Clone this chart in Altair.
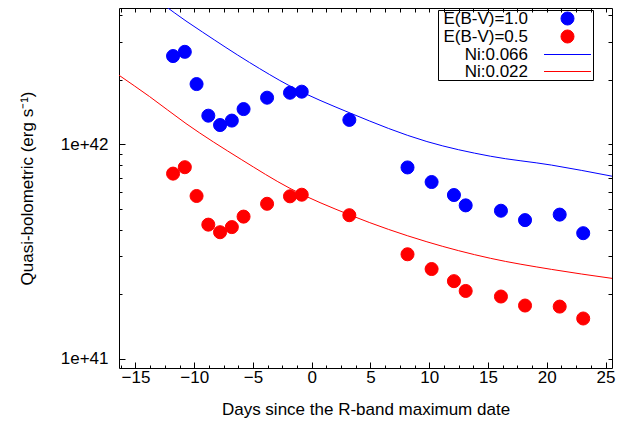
import altair as alt
import pandas as pd

# ---- data ----
days = [-11.8, -10.8, -9.8, -8.8, -7.8, -6.8, -5.8, -3.8, -1.85, -0.85,
        3.2, 8.15, 10.2, 12.1, 13.1, 16.1, 18.15, 21.1, 23.1]
lum_ebv10 = [2.58e42, 2.70e42, 1.91e42, 1.36e42, 1.23e42, 1.29e42, 1.46e42, 1.65e42, 1.74e42, 1.76e42,
             1.30e42, 7.8e41, 6.67e41, 5.8e41, 5.19e41, 4.9e41, 4.43e41, 4.7e41, 3.85e41]
lum_ebv05 = [7.3e41, 7.82e41, 5.74e41, 4.22e41, 3.89e41, 4.11e41, 4.6e41, 5.28e41, 5.72e41, 5.82e41,
             4.67e41, 3.07e41, 2.62e41, 2.30e41, 2.07e41, 1.95e41, 1.77e41, 1.75e41, 1.54e41]

ni066_days = [-12.6, -10.7, -9.3, -5.3, -1.85, 3.26, 9.8, 15.2, 20.4, 25.55]
ni066_lum = [4.47e42, 3.76e42, 3.34e42, 2.41e42, 1.87e42, 1.40e42, 1.03e42, 8.8e41, 8.0e41, 7.1e41]
ni022_days = [-16.4, -13.8, -10.7, -6.0, -1.85, 3.26, 9.8, 15.2, 20.4, 25.55]
ni022_lum = [2.10e42, 1.67e42, 1.25e42, 8.5e41, 6.23e41, 4.68e41, 3.51e41, 2.94e41, 2.61e41, 2.37e41]

series_names = ["E(B-V)=1.0", "E(B-V)=0.5", "Ni:0.066", "Ni:0.022"]
series_colors = ["#0000ff", "#ff0000", "#0000ff", "#ff0000"]

x_major = [-15, -10, -5, 0, 5, 10, 15, 20, 25]
x_minor = [-16.25 + 1.25 * i for i in range(34)]
y_major = [1e41, 1e42]
y_minor = [2e41, 3e41, 4e41, 5e41, 6e41, 7e41, 8e41, 9e41, 2e42, 3e42, 4e42]

W, H = 493, 360
FONT = "Liberation Sans"
FS = 17
TICK = "#000000"

xs = alt.Scale(domain=[-16.4, 25.55], zero=False, nice=False)
ys = alt.Scale(type="log", domain=[9.05e40, 4.323e42], nice=False)

color_scale = alt.Scale(domain=series_names, range=series_colors)
line_sym = "M-3.6,0H3.6"
shape_scale = alt.Scale(domain=series_names, range=["circle", "circle", line_sym, line_sym])

PAD = "\u2800" * 4
legend = alt.Legend(
    title=None, orient="none", legendX=319, legendY=2,
    padding=0, rowPadding=-1.5, strokeColor="black", fillColor="white",
    symbolSize=170, symbolStrokeWidth=1, symbolOffset=121, labelOffset=0,
    labelAlign="right", labelFont=FONT, labelFontSize=FS, labelColor="black",
    labelLimit=400, labelExpr="datum.label + '" + PAD + "'",
)


def tick_axis(orient, values, size, offset):
    # axis placed on the opposite edge so that its ticks point into the plot
    return alt.Axis(orient=orient, values=values, tickSize=size, offset=offset,
                    labels=False, domain=False, grid=False, ticks=True,
                    tickColor=TICK, tickWidth=1, tickOpacity=1, zindex=1, title=None)


x_labels = alt.Axis(orient="bottom", values=x_major, ticks=False, tickSize=0, offset=0,
                    domain=False, grid=False, labelPadding=1, labelFlush=False,
                    title="Days since the R-band maximum date", titlePadding=16)
y_labels = alt.Axis(orient="left", values=y_major, ticks=False, tickSize=0, offset=0,
                    domain=False, grid=False, labelPadding=11,
                    labelExpr="datum.value < 5e41 ? '1e+41' : '1e+42'",
                    title="Quasi-bolometric (erg s\u207b\u00b9)", titlePadding=24)

x_bottom_major = tick_axis("top", x_major, 6, -H)
x_bottom_minor = tick_axis("top", x_minor, 3, -H)
x_top_all = tick_axis("bottom", x_major + x_minor, 4, -H)
y_left_major = tick_axis("right", y_major, 6, -W)
y_left_minor = tick_axis("right", y_minor, 3, -W)
y_right_all = tick_axis("left", y_major + y_minor, 4, -W)


def points(name, lums, xa, ya):
    df = pd.DataFrame({"day": days, "lum": lums, "series": name})
    return alt.Chart(df).mark_point(filled=True, size=170, opacity=1, strokeWidth=1).encode(
        x=alt.X("day:Q", scale=xs, axis=xa),
        y=alt.Y("lum:Q", scale=ys, axis=ya),
        fill=alt.Fill("series:N", scale=color_scale, legend=legend),
        stroke=alt.Stroke("series:N", scale=color_scale, legend=legend),
        shape=alt.Shape("series:N", scale=shape_scale, legend=legend),
    )


def curve(d, l, color, xa, ya):
    df = pd.DataFrame({"day": d, "lum": l})
    return alt.Chart(df).mark_line(color=color, strokeWidth=1, clip=True,
                                   interpolate="monotone").encode(
        x=alt.X("day:Q", scale=xs, axis=xa),
        y=alt.Y("lum:Q", scale=ys, axis=ya),
    )


chart = alt.layer(
    curve(ni066_days, ni066_lum, series_colors[2], x_bottom_minor, y_left_minor),
    curve(ni022_days, ni022_lum, series_colors[3], x_top_all, y_right_all),
    points(series_names[0], lum_ebv10, x_labels, y_labels),
    points(series_names[1], lum_ebv05, x_bottom_major, y_left_major),
).resolve_axis(x="independent", y="independent").properties(
    width=W, height=H,
    padding={"left": 111, "top": 0, "right": 15, "bottom": 53},
    autosize=alt.AutoSizeParams(type="none"),
).configure(font=FONT).configure_view(stroke="black", strokeWidth=1).configure_axis(
    labelFont=FONT, labelFontSize=FS, labelColor="black",
    titleFont=FONT, titleFontSize=FS, titleFontWeight="normal", titleColor="black",
)

chart.save("out.html", embed_options={"renderer": "svg", "actions": False})
